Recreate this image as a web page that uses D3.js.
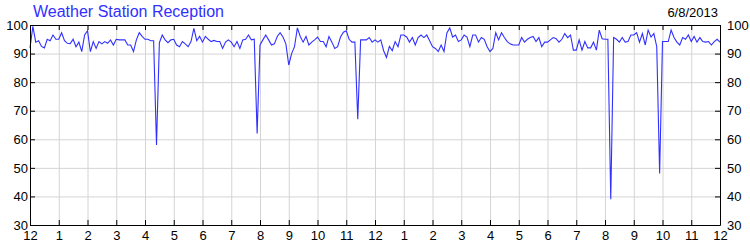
<!DOCTYPE html>
<html>
<head>
<meta charset="utf-8">
<script src="https://cdn.jsdelivr.net/npm/d3@7"></script>
<style>
    body { margin: 0; background: #fff; }
    svg { display: block; }
    .tick text { font-family: "Liberation Sans", Arial, sans-serif; font-size: 13px; fill: #000; }
</style>
</head>
<body>
<svg id="main-svg" width="750" height="250"></svg>
<script>
// one reading every 6 minutes, starting at midnight (10 readings per hour)
let START = new Date(2013, 5, 8, 0, 0);
let END = new Date(2013, 5, 9, 0, 0);
let STEP_MINUTES = 6;

let reception = [
    92, 99.5, 94, 94.5, 92.5, 92, 95, 94.5, 96.5, 95,          // 12am
    95, 97.3, 94.5, 93.6, 93.5, 95, 92.4, 94, 90.7, 96.5,      // 1
    98, 90.7, 94.2, 91.8, 94.2, 93.4, 94.2, 93.6, 94.8, 93,    // 2
    95, 94.8, 94.8, 94.8, 93, 93, 90.7, 94.8, 97.3, 96,        // 3
    95, 95, 94.5, 94.5, 58, 93.8, 96.5, 94.8, 93.8, 94.8,      // 4
    95, 93, 92.4, 94.2, 93.4, 92.4, 94.2, 98.8, 94.5, 96,      // 5
    94, 96, 95, 94.2, 94.6, 94.2, 94.2, 91.8, 94, 94.8,        // 6
    94, 92.4, 94.2, 91.8, 94.8, 95, 96.5, 94.8, 95, 62,        // 7
    93, 94.8, 96.5, 94.8, 93, 93.4, 96, 97.3, 95.8, 93.4,      // 8
    86, 90, 92.4, 99, 96, 94, 96, 93, 94, 94.8,                // 9
    95.8, 94.2, 94.2, 92.4, 96, 94, 91.8, 92.4, 95.8, 97.5,    // 10
    98, 95, 94, 94, 67, 94.8, 94.8, 94.8, 95.6, 94,            // 11
    94.8, 94, 94.8, 91, 88.6, 92.5, 91, 94.2, 92.4, 96.5,      // 12pm
    96.5, 95.8, 94, 95.6, 93, 95.6, 96.5, 95.6, 96.5, 94.5,    // 1
    92.4, 91.8, 90.7, 93, 90.7, 97.2, 99, 95.8, 96.5, 94.2,    // 2
    94.8, 96.5, 95.8, 92.4, 96.5, 96.5, 94, 95.6, 95, 92.4,    // 3
    90.7, 91.8, 97.3, 94.8, 97.3, 95.6, 94.2, 93.4, 93, 93,    // 4
    93, 95.6, 94, 95, 95.6, 96, 94.2, 95.6, 92.4, 94,          // 5
    94, 94.8, 95.6, 95.2, 94, 95, 97, 95.6, 96.5, 91.2,        // 6
    91.2, 94.8, 91.2, 94.2, 92, 92, 94, 91.2, 98.2, 95.2,      // 7
    95, 95, 39, 95.6, 95, 94, 95.6, 94, 94.2, 96.5,            // 8
    96.5, 97.3, 94, 97, 93, 98.2, 95.8, 97, 92.4, 48,          // 9
    94.2, 94.2, 94.2, 98.2, 95.6, 94, 93, 95.6, 95, 96.5,      // 10
    94.2, 96, 94, 95.6, 94.2, 94, 94.2, 93, 94.2, 95,          // 11
    94
];

let Y_DOMAIN = [30, 100];
let Y_TICKS = [30, 40, 50, 60, 70, 80, 90, 100];

let TITLE = 'Weather Station Reception';
let DATE_LABEL = '6/8/2013';

let LINE_COLOR = '#3030ff';
let GRID_COLOR = '#d4d4d4';

(function () {
    let svg = d3.select('#main-svg');
    let left = 30, right = 720, top = 25, bottom = 225;

    let x = d3.scaleTime().domain([START, END]).range([left, right]);
    let y = d3.scaleLinear().domain(Y_DOMAIN).range([bottom, top]);

    let points = reception.map((v, i) => ({
        t: d3.timeMinute.offset(START, i * STEP_MINUTES),
        v: v
    }));

    let hours = d3.timeHour.every(1);
    let hourFormat = d3.timeFormat('%-I');

    // grid lines
    svg.append('g')
        .attr('transform', `translate(0,${bottom})`)
        .call(d3.axisBottom(x).ticks(hours).tickSize(-(bottom - top)).tickFormat(''))
        .call(g => g.select('.domain').remove())
        .call(g => g.selectAll('line').attr('stroke', GRID_COLOR));
    svg.append('g')
        .attr('transform', `translate(${left},0)`)
        .call(d3.axisLeft(y).tickValues(Y_TICKS).tickSize(-(right - left)).tickFormat(''))
        .call(g => g.select('.domain').remove())
        .call(g => g.selectAll('line').attr('stroke', GRID_COLOR));

    // the reception line
    let line = d3.line()
        .x(d => x(d.t))
        .y(d => y(d.v));
    svg.append('path')
        .datum(points)
        .attr('d', line)
        .attr('fill', 'none')
        .attr('stroke', LINE_COLOR)
        .attr('stroke-width', 1.1);

    // axes, ticks point inward
    svg.append('g')
        .attr('transform', `translate(0,${bottom})`)
        .call(d3.axisBottom(x).ticks(hours).tickFormat(hourFormat).tickSizeInner(-5).tickSizeOuter(0).tickPadding(6));
    svg.append('g')
        .attr('transform', `translate(0,${top})`)
        .call(d3.axisTop(x).ticks(hours).tickFormat('').tickSizeInner(-5).tickSizeOuter(0));
    svg.append('g')
        .attr('transform', `translate(${left},0)`)
        .call(d3.axisLeft(y).tickValues(Y_TICKS).tickSizeInner(-5).tickSizeOuter(0).tickPadding(2));
    svg.append('g')
        .attr('transform', `translate(${right},0)`)
        .call(d3.axisRight(y).tickValues(Y_TICKS).tickSizeInner(-5).tickSizeOuter(0).tickPadding(7));

    // title and date
    svg.append('text')
        .attr('x', 33)
        .attr('y', 17)
        .attr('font-family', '"Liberation Sans", Arial, sans-serif')
        .attr('font-size', 16)
        .attr('fill', LINE_COLOR)
        .text(TITLE);
    svg.append('text')
        .attr('x', 718)
        .attr('y', 17)
        .attr('text-anchor', 'end')
        .attr('font-family', '"Liberation Sans", Arial, sans-serif')
        .attr('font-size', 13)
        .attr('fill', '#000')
        .text(DATE_LABEL);
})();
</script>
</body>
</html>
